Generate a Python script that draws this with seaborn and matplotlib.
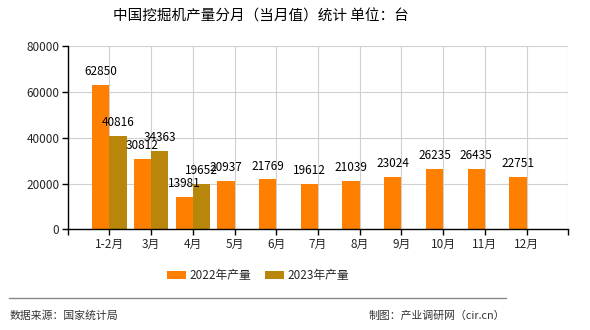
import matplotlib
matplotlib.use("Agg")
import matplotlib.pyplot as plt
import seaborn as sns
import pandas as pd
import numpy as np
from matplotlib.patches import Patch

months = ["1-2月", "3月", "4月", "5月", "6月", "7月", "8月", "9月", "10月", "11月", "12月"]
prod_2022 = [62850, 30812, 13981, 20937, 21769, 19612, 21039, 23024, 26235, 26435, 22751]
prod_2023 = [40816, 34363, 19652]
series = ["2022年产量", "2023年产量"]
colors = ["#FF8000", "#B8860B"]
yticks = [0, 20000, 40000, 60000, 80000]

sns.set_theme(style="white")
plt.rcParams['font.family'] = ['Noto Sans CJK SC', 'DejaVu Sans']

rows = []
for m, v in zip(months, prod_2022):
    rows.append({"月份": m, "系列": series[0], "产量": v})
for m, v in zip(months, prod_2023):
    rows.append({"月份": m, "系列": series[1], "产量": v})
df = pd.DataFrame(rows)

fig = plt.figure(figsize=(5.9, 3.3), dpi=100)
ax = fig.add_axes([0.1147, 0.305, 0.8485, 0.5556])

sns.barplot(data=df, x="月份", y="产量", hue="系列", order=months, hue_order=series,
            palette=colors, width=0.83, saturation=1, ax=ax, legend=False,
            linewidth=0, edgecolor="none", gap=0)

for cont in ax.containers:
    ax.bar_label(cont, fmt="%.0f", padding=5, fontsize=8.5, color="black")

ax.set_xlim(-1, 11)
ax.set_ylim(0, 80000)
ax.set_xticks(range(-1, 12))
ax.set_xticklabels([""] + months + [""], fontsize=8.5)
ax.set_yticks(yticks)
ax.set_yticklabels([str(t) for t in yticks], fontsize=8.5)
ax.set_xlabel("")
ax.set_ylabel("")
ax.grid(True, color="#d0d0d0", linewidth=0.8)
ax.set_axisbelow(True)
for s in ["top", "right"]:
    ax.spines[s].set_visible(False)
for s in ["left", "bottom"]:
    ax.spines[s].set_color("black")
    ax.spines[s].set_linewidth(1)
ax.tick_params(axis="both", which="both", length=4, width=1, color="black", direction="out",
               bottom=True, left=True, pad=2)

handles = [Patch(facecolor=c, edgecolor="none") for c in colors]
fig.legend(handles, series, loc="center", bbox_to_anchor=(0.437, 0.164), ncol=2,
           frameon=False, fontsize=8.5, handlelength=1.6, handleheight=0.6,
           handletextpad=0.3, columnspacing=1.2)

fig.text(0.442, 1 - 17 / 330, "中国挖掘机产量分月（当月值）统计 单位：台",
         ha="center", va="center", fontsize=10.5, color="black")

fig.add_artist(plt.Line2D([9 / 590, 506 / 590], [1 - 298 / 330, 1 - 298 / 330],
                          color="#888888", linewidth=1))
fig.text(10 / 590, 1 - 316 / 330, "数据来源：国家统计局", ha="left", va="center",
         fontsize=7.8, color="#333333")
fig.text(505 / 590, 1 - 316 / 330, "制图：产业调研网（cir.cn）", ha="right", va="center",
         fontsize=7.8, color="#333333")

fig.savefig("out.png", dpi=100)
